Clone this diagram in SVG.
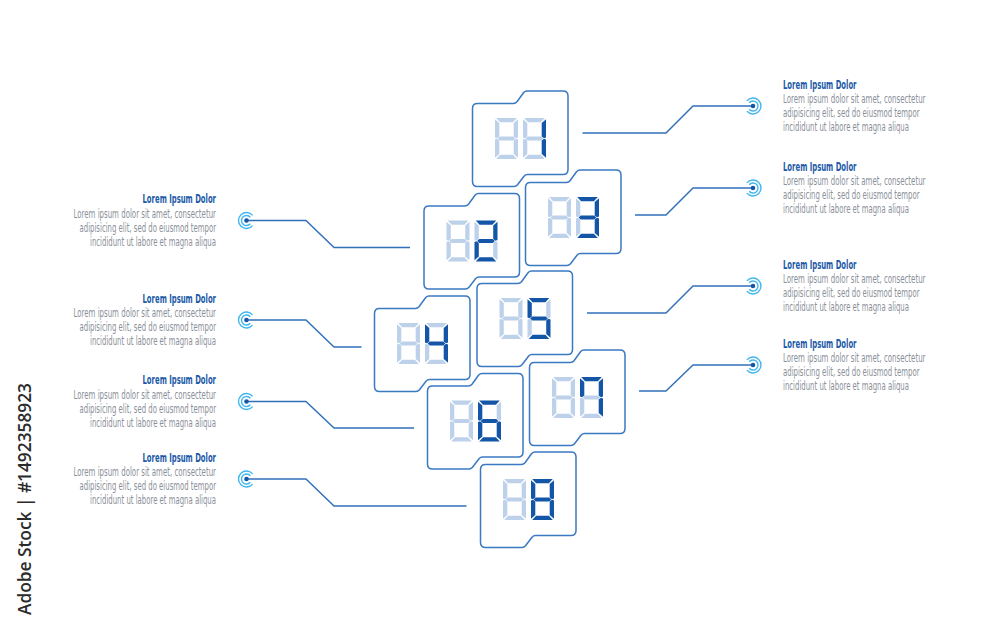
<svg xmlns="http://www.w3.org/2000/svg" xmlns:xlink="http://www.w3.org/1999/xlink" width="1000" height="629" viewBox="0 0 1000 629">
<style>
.box{fill:#fff;stroke:#3b79c3;stroke-width:1.5;stroke-linejoin:round}
.off{fill:#bdd2ea}
.on{fill:#1355a7}
.conn{fill:none;stroke:#3070b9;stroke-width:1.5;stroke-linejoin:round}
.ring{fill:none;stroke:#41b6ef;stroke-width:1.4}
.dot{fill:#1756a6}
.ttl{font-family:"Liberation Sans Narrow","DejaVu Sans Condensed","Liberation Sans",sans-serif;font-weight:bold;font-size:12px;fill:#1c5aa7}
.bd{font-family:"Liberation Sans Narrow","DejaVu Sans Condensed","Liberation Sans",sans-serif;font-size:11.5px;fill:#8a8f99}
.r text{text-anchor:start}
.l text{text-anchor:end}
.wm{font-family:"Open Sans","Liberation Sans",sans-serif;font-weight:600;font-size:18.5px;fill:#2b2b2b}
</style>
<defs>
<path id="box" d="M0,17.5 Q0,12.5 5,12.5 L41,12.5 Q43,12.5 44.5,10.8 L51,1.7 Q52.5,0 54.5,0 L90.5,0 Q95.5,0 95.5,5 L95.5,78.5 Q95.5,83.5 90.5,83.5 L55,83.5 Q53,83.5 51.5,85.2 L45,93.8 Q43.5,95.5 41.5,95.5 L5,95.5 Q0,95.5 0,90.5 Z"/>
<polygon id="sa" points="1.2,0 21.8,0 17.9,4.3 5.1,4.3"/>
<polygon id="sb" points="23,1.2 23,19.6 21,20.2 18.7,18.4 18.7,5.1"/>
<polygon id="sc" points="23,21.4 23,39.8 18.7,35.9 18.7,22.6 21,20.8"/>
<polygon id="sd" points="1.2,41 21.8,41 17.9,36.7 5.1,36.7"/>
<polygon id="se" points="0,21.4 2,20.8 4.3,22.6 4.3,35.9 0,39.8"/>
<polygon id="sf" points="0,1.2 4.3,5.1 4.3,18.4 2,20.2 0,19.6"/>
<polygon id="sg" points="2.6,20.5 4.8,18.5 18.2,18.5 20.4,20.5 18.2,22.5 4.8,22.5"/>
<g id="d8">
<use xlink:href="#sa"/><use xlink:href="#sb"/><use xlink:href="#sc"/><use xlink:href="#sd"/><use xlink:href="#se"/><use xlink:href="#sf"/><use xlink:href="#sg"/>
</g>
<g id="tgt">
<path class="ring" d="M6.13,-5.14 A8,8 0 1 0 6.13,5.14"/>
<path class="ring" d="M3.83,-3.21 A5,5 0 1 0 3.83,3.21"/>
<circle class="dot" r="2.3"/>
</g>
</defs>
<rect width="1000" height="629" fill="#fff"/>

<g id="connectors">
<polyline class="conn" points="582.5,133 666,133 693,106 753,106"/>
<polyline class="conn" points="635,215 666,215 693,188 753,188"/>
<polyline class="conn" points="587,313 666,313 693,286 753,286"/>
<polyline class="conn" points="639,391 666,391 693,365 753,365"/>
<polyline class="conn" points="246.5,220.5 306,220.5 334,247.5 410,247.5"/>
<polyline class="conn" points="246.5,320 306,320 334,347 361.5,347"/>
<polyline class="conn" points="246.5,401.5 306,401.5 334,428 414,428"/>
<polyline class="conn" points="246.5,479 306,479 334,506 466.5,506"/>
</g>

<g id="targets">
<use xlink:href="#tgt" transform="translate(753,106) scale(-1,1)"/>
<use xlink:href="#tgt" transform="translate(753,188) scale(-1,1)"/>
<use xlink:href="#tgt" transform="translate(753,286) scale(-1,1)"/>
<use xlink:href="#tgt" transform="translate(753,365) scale(-1,1)"/>
<use xlink:href="#tgt" transform="translate(246.5,220.5)"/>
<use xlink:href="#tgt" transform="translate(246.5,320)"/>
<use xlink:href="#tgt" transform="translate(246.5,401.5)"/>
<use xlink:href="#tgt" transform="translate(246.5,479)"/>
</g>

<g id="node01" transform="translate(472.5,91)">
<use class="box" xlink:href="#box"/>
<use class="off" xlink:href="#d8" x="22.5" y="27"/>
<g class="off" transform="translate(50.5,27)"><use xlink:href="#sa"/><use xlink:href="#sd"/><use xlink:href="#se"/><use xlink:href="#sf"/><use xlink:href="#sg"/></g>
<g class="on" transform="translate(50.5,27)"><use xlink:href="#sb"/><use xlink:href="#sc"/></g>
</g>
<g id="node02" transform="translate(424,193.5)">
<use class="box" xlink:href="#box"/>
<use class="off" xlink:href="#d8" x="22.5" y="27"/>
<g class="off" transform="translate(50.5,27)"><use xlink:href="#sc"/><use xlink:href="#sf"/></g>
<g class="on" transform="translate(50.5,27)"><use xlink:href="#sa"/><use xlink:href="#sb"/><use xlink:href="#sg"/><use xlink:href="#se"/><use xlink:href="#sd"/></g>
</g>
<g id="node03" transform="translate(525.5,170)">
<use class="box" xlink:href="#box"/>
<use class="off" xlink:href="#d8" x="22.5" y="27"/>
<g class="off" transform="translate(50.5,27)"><use xlink:href="#se"/><use xlink:href="#sf"/></g>
<g class="on" transform="translate(50.5,27)"><use xlink:href="#sa"/><use xlink:href="#sb"/><use xlink:href="#sg"/><use xlink:href="#sc"/><use xlink:href="#sd"/></g>
</g>
<g id="node04" transform="translate(374.5,296)">
<use class="box" xlink:href="#box"/>
<use class="off" xlink:href="#d8" x="22.5" y="27"/>
<g class="off" transform="translate(50.5,27)"><use xlink:href="#sa"/><use xlink:href="#sd"/><use xlink:href="#se"/></g>
<g class="on" transform="translate(50.5,27)"><use xlink:href="#sf"/><use xlink:href="#sg"/><use xlink:href="#sb"/><use xlink:href="#sc"/></g>
</g>
<g id="node05" transform="translate(477,271)">
<use class="box" xlink:href="#box"/>
<use class="off" xlink:href="#d8" x="22.5" y="27"/>
<g class="off" transform="translate(50.5,27)"><use xlink:href="#sb"/><use xlink:href="#se"/></g>
<g class="on" transform="translate(50.5,27)"><use xlink:href="#sa"/><use xlink:href="#sf"/><use xlink:href="#sg"/><use xlink:href="#sc"/><use xlink:href="#sd"/></g>
</g>
<g id="node06" transform="translate(427.5,373.5)">
<use class="box" xlink:href="#box"/>
<use class="off" xlink:href="#d8" x="22.5" y="27"/>
<g class="off" transform="translate(50.5,27)"><use xlink:href="#sb"/></g>
<g class="on" transform="translate(50.5,27)"><use xlink:href="#sa"/><use xlink:href="#sf"/><use xlink:href="#sg"/><use xlink:href="#se"/><use xlink:href="#sc"/><use xlink:href="#sd"/></g>
</g>
<g id="node07" transform="translate(529.5,350)">
<use class="box" xlink:href="#box"/>
<use class="off" xlink:href="#d8" x="22.5" y="27"/>
<g class="off" transform="translate(50.5,27)"><use xlink:href="#sd"/><use xlink:href="#se"/><use xlink:href="#sg"/></g>
<g class="on" transform="translate(50.5,27)"><use xlink:href="#sa"/><use xlink:href="#sf"/><use xlink:href="#sb"/><use xlink:href="#sc"/></g>
</g>
<g id="node08" transform="translate(480.5,452)">
<use class="box" xlink:href="#box"/>
<use class="off" xlink:href="#d8" x="22.5" y="27"/>
<use class="on" xlink:href="#d8" x="50.5" y="27"/>
</g>

<g id="label01" class="r">
<text class="ttl" x="783" y="88.7" textLength="73.5" lengthAdjust="spacingAndGlyphs">Lorem Ipsum Dolor</text>
<text class="bd" x="783" y="103.1" textLength="142.5" lengthAdjust="spacingAndGlyphs">Lorem ipsum dolor sit amet, consectetur</text>
<text class="bd" x="783" y="117.1" textLength="136.5" lengthAdjust="spacingAndGlyphs">adipisicing elit, sed do eiusmod tempor</text>
<text class="bd" x="783" y="131.1" textLength="126" lengthAdjust="spacingAndGlyphs">incididunt ut labore et magna aliqua</text>
</g>
<g id="label03" class="r">
<text class="ttl" x="783" y="170.7" textLength="73.5" lengthAdjust="spacingAndGlyphs">Lorem Ipsum Dolor</text>
<text class="bd" x="783" y="185.1" textLength="142.5" lengthAdjust="spacingAndGlyphs">Lorem ipsum dolor sit amet, consectetur</text>
<text class="bd" x="783" y="199.1" textLength="136.5" lengthAdjust="spacingAndGlyphs">adipisicing elit, sed do eiusmod tempor</text>
<text class="bd" x="783" y="213.1" textLength="126" lengthAdjust="spacingAndGlyphs">incididunt ut labore et magna aliqua</text>
</g>
<g id="label05" class="r">
<text class="ttl" x="783" y="268.7" textLength="73.5" lengthAdjust="spacingAndGlyphs">Lorem Ipsum Dolor</text>
<text class="bd" x="783" y="283.1" textLength="142.5" lengthAdjust="spacingAndGlyphs">Lorem ipsum dolor sit amet, consectetur</text>
<text class="bd" x="783" y="297.1" textLength="136.5" lengthAdjust="spacingAndGlyphs">adipisicing elit, sed do eiusmod tempor</text>
<text class="bd" x="783" y="311.1" textLength="126" lengthAdjust="spacingAndGlyphs">incididunt ut labore et magna aliqua</text>
</g>
<g id="label07" class="r">
<text class="ttl" x="783" y="347.7" textLength="73.5" lengthAdjust="spacingAndGlyphs">Lorem Ipsum Dolor</text>
<text class="bd" x="783" y="362.1" textLength="142.5" lengthAdjust="spacingAndGlyphs">Lorem ipsum dolor sit amet, consectetur</text>
<text class="bd" x="783" y="376.1" textLength="136.5" lengthAdjust="spacingAndGlyphs">adipisicing elit, sed do eiusmod tempor</text>
<text class="bd" x="783" y="390.1" textLength="126" lengthAdjust="spacingAndGlyphs">incididunt ut labore et magna aliqua</text>
</g>
<g id="label02" class="l">
<text class="ttl" x="216" y="203.2" textLength="73.5" lengthAdjust="spacingAndGlyphs">Lorem Ipsum Dolor</text>
<text class="bd" x="216" y="217.8" textLength="142.5" lengthAdjust="spacingAndGlyphs">Lorem ipsum dolor sit amet, consectetur</text>
<text class="bd" x="216" y="231.8" textLength="136.5" lengthAdjust="spacingAndGlyphs">adipisicing elit, sed do eiusmod tempor</text>
<text class="bd" x="216" y="245.8" textLength="126" lengthAdjust="spacingAndGlyphs">incididunt ut labore et magna aliqua</text>
</g>
<g id="label04" class="l">
<text class="ttl" x="216" y="302.7" textLength="73.5" lengthAdjust="spacingAndGlyphs">Lorem Ipsum Dolor</text>
<text class="bd" x="216" y="317.1" textLength="142.5" lengthAdjust="spacingAndGlyphs">Lorem ipsum dolor sit amet, consectetur</text>
<text class="bd" x="216" y="331.1" textLength="136.5" lengthAdjust="spacingAndGlyphs">adipisicing elit, sed do eiusmod tempor</text>
<text class="bd" x="216" y="345.1" textLength="126" lengthAdjust="spacingAndGlyphs">incididunt ut labore et magna aliqua</text>
</g>
<g id="label06" class="l">
<text class="ttl" x="216" y="384.2" textLength="73.5" lengthAdjust="spacingAndGlyphs">Lorem Ipsum Dolor</text>
<text class="bd" x="216" y="398.6" textLength="142.5" lengthAdjust="spacingAndGlyphs">Lorem ipsum dolor sit amet, consectetur</text>
<text class="bd" x="216" y="412.6" textLength="136.5" lengthAdjust="spacingAndGlyphs">adipisicing elit, sed do eiusmod tempor</text>
<text class="bd" x="216" y="426.6" textLength="126" lengthAdjust="spacingAndGlyphs">incididunt ut labore et magna aliqua</text>
</g>
<g id="label08" class="l">
<text class="ttl" x="216" y="461.7" textLength="73.5" lengthAdjust="spacingAndGlyphs">Lorem Ipsum Dolor</text>
<text class="bd" x="216" y="476.1" textLength="142.5" lengthAdjust="spacingAndGlyphs">Lorem ipsum dolor sit amet, consectetur</text>
<text class="bd" x="216" y="490.1" textLength="136.5" lengthAdjust="spacingAndGlyphs">adipisicing elit, sed do eiusmod tempor</text>
<text class="bd" x="216" y="504.1" textLength="126" lengthAdjust="spacingAndGlyphs">incididunt ut labore et magna aliqua</text>
</g>

<text class="wm" transform="translate(30.5,615) rotate(-90)" textLength="232" lengthAdjust="spacingAndGlyphs">Adobe Stock | #1492358923</text>
</svg>
